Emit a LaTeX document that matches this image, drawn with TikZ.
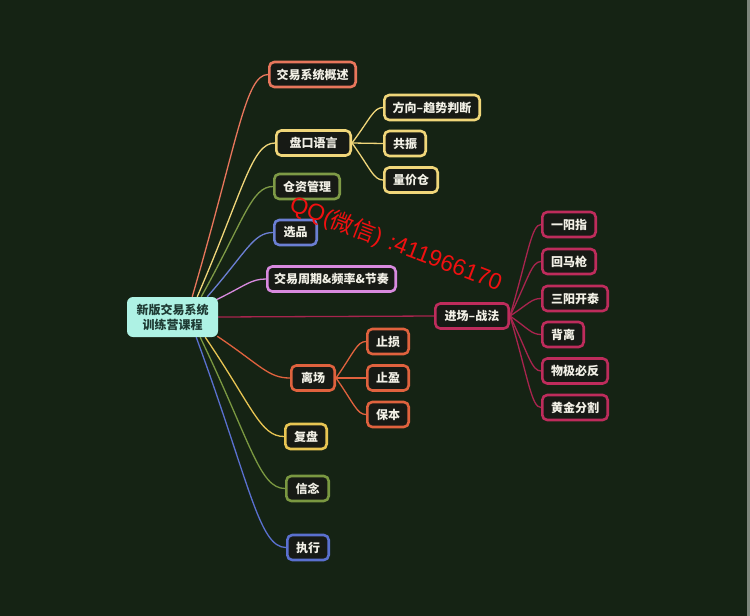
\documentclass[tikz,border=0pt]{standalone}
\usepackage{fontspec}
\newfontfamily\cjk{Noto Sans CJK SC}
\newfontfamily\wmfont{Liberation Sans}
\usetikzlibrary{calc}
\pgfdeclarelayer{back}
\pgfdeclarelayer{bg}
\pgfsetlayers{back,bg,main}
\definecolor{bgc}{HTML}{152314}
\definecolor{edgegray}{HTML}{7D857C}
\definecolor{coral}{HTML}{E8765C}
\definecolor{yel}{HTML}{F0D67A}
\definecolor{olive}{HTML}{7E9A46}
\definecolor{blueA}{HTML}{6B7FD3}
\definecolor{pink}{HTML}{D88ADF}
\definecolor{crimson}{HTML}{BE2C5C}
\definecolor{crimsonline}{HTML}{A8244E}
\definecolor{orng}{HTML}{E0623E}
\definecolor{gold}{HTML}{E8C553}
\definecolor{oliveB}{HTML}{7A9841}
\definecolor{blueB}{HTML}{5A70CF}
\definecolor{rootfill}{HTML}{AEF2E4}
\definecolor{roottext}{HTML}{1E3A33}
\definecolor{nodefill}{HTML}{171A15}
\definecolor{nodetext}{HTML}{F2F0E6}
\definecolor{wmred}{HTML}{F01010}
\tikzset{
  box/.style={draw=#1, line width=2.6pt, rounded corners=5pt, fill=nodefill,
    text=nodetext, font=\cjk\bfseries\fontsize{12}{14}\selectfont,
    inner sep=0pt, minimum height=25pt, align=center},
  rootbox/.style={fill=rootfill, rounded corners=6pt, text=roottext,
    font=\cjk\bfseries\fontsize{12}{15}\selectfont, inner sep=0pt,
    minimum width=91pt, minimum height=40pt, align=center},
  link/.style={draw=#1, line width=1.3pt},
}
\newcommand\conn[3]{\draw[link=#3] let \p1=(#1), \p2=(#2) in (\p1) .. controls ({\x1+0.6*(\x2-\x1)},{\y1+0.7*(\y2-\y1)}) and ({\x2-0.3*(\x2-\x1)},{\y2}) .. (\p2);}
\begin{document}
\begin{tikzpicture}[x=1pt,y=-1pt]
\begin{pgfonlayer}{back}
\fill[bgc] (0,0) rectangle (750,616);
\fill[edgegray] (747,0) rectangle (750,616);
\end{pgfonlayer}
\useasboundingbox (0,0) rectangle (750,616);

\node[rootbox] (root) at (172.5,317) {新版交易系统\\训练营课程};

\node[box=coral, minimum width=86.4pt] (ov) at (312.5,74.5) {交易系统概述};
\node[box=yel, minimum width=74.4pt] (pk) at (313.5,143) {盘口语言};
\node[box=yel, minimum width=95.4pt] (fx) at (432,107.5) {方向–趋势判断};
\node[box=yel, minimum width=41.4pt] (gz) at (405,143.5) {共振};
\node[box=yel, minimum width=53.4pt] (ljc) at (411,180) {量价仓};
\node[box=olive, minimum width=65.4pt] (cz) at (307,186.5) {仓资管理};
\node[box=blueA, minimum width=42.4pt] (xp) at (295.5,232.5) {选品};
\node[box=pink, minimum width=128.4pt] (zq) at (331.5,279) {交易周期\&频率\&节奏};
\node[box=crimson, minimum width=73.4pt] (jc) at (472,316) {进场–战法};
\node[box=crimson, minimum width=53.4pt] (yyz) at (569,224.5) {一阳指};
\node[box=crimson, minimum width=53.4pt] (hmq) at (569,261.5) {回马枪};
\node[box=crimson, minimum width=65.4pt] (sykt) at (575,298.5) {三阳开泰};
\node[box=crimson, minimum width=41.4pt] (bl) at (563,334.5) {背离};
\node[box=crimson, minimum width=65.4pt] (wjbf) at (575,371) {物极必反};
\node[box=crimson, minimum width=65.4pt] (hjfg) at (575,407.5) {黄金分割};
\node[box=orng, minimum width=43.4pt] (lc) at (313,378) {离场};
\node[box=orng, minimum width=41.4pt] (zs) at (388,341.5) {止损};
\node[box=orng, minimum width=41.4pt] (zy) at (388,378) {止盈};
\node[box=orng, minimum width=41.4pt] (bb) at (388,414.5) {保本};
\node[box=gold, minimum width=41.4pt] (fp) at (306,436.5) {复盘};
\node[box=oliveB, minimum width=42.4pt] (xn) at (307.5,488.5) {信念};
\node[box=blueB, minimum width=41.4pt] (zx) at (308,547.5) {执行};

\begin{pgfonlayer}{bg}
\conn{[xshift=-26pt]root.north east}{ov.west}{coral}
\conn{[xshift=-21pt]root.north east}{pk.west}{yel}
\conn{[xshift=-17pt]root.north east}{cz.west}{olive}
\conn{[xshift=-11pt]root.north east}{xp.west}{blueA}
\conn{[xshift=-2pt,yshift=-3pt]root.north east}{zq.west}{pink}
\draw[link=crimsonline] (root.east) -- (jc.west);
\conn{[xshift=-1pt,yshift=1pt]root.south east}{lc.west}{orng}
\conn{[xshift=-13pt]root.south east}{fp.west}{gold}
\conn{[xshift=-18pt]root.south east}{xn.west}{oliveB}
\conn{[xshift=-22pt]root.south east}{zx.west}{blueB}
\conn{pk.east}{fx.west}{yel}
\draw[link=yel] (pk.east) -- (gz.west);
\conn{pk.east}{ljc.west}{yel}
\conn{jc.east}{yyz.west}{crimsonline}
\conn{jc.east}{hmq.west}{crimsonline}
\conn{jc.east}{sykt.west}{crimsonline}
\conn{jc.east}{bl.west}{crimsonline}
\conn{jc.east}{wjbf.west}{crimsonline}
\conn{jc.east}{hjfg.west}{crimsonline}
\conn{lc.east}{zs.west}{orng}
\draw[link=orng] (lc.east) -- (zy.west);
\conn{lc.east}{bb.west}{orng}
\end{pgfonlayer}

\node[rotate=-21, text=wmred, font=\wmfont\fontsize{23}{23}\selectfont, inner sep=0pt] (wm) at (396,244) {QQ({\cjk 微信})\hspace{0.35em}:411966170};
\end{tikzpicture}
\end{document}
